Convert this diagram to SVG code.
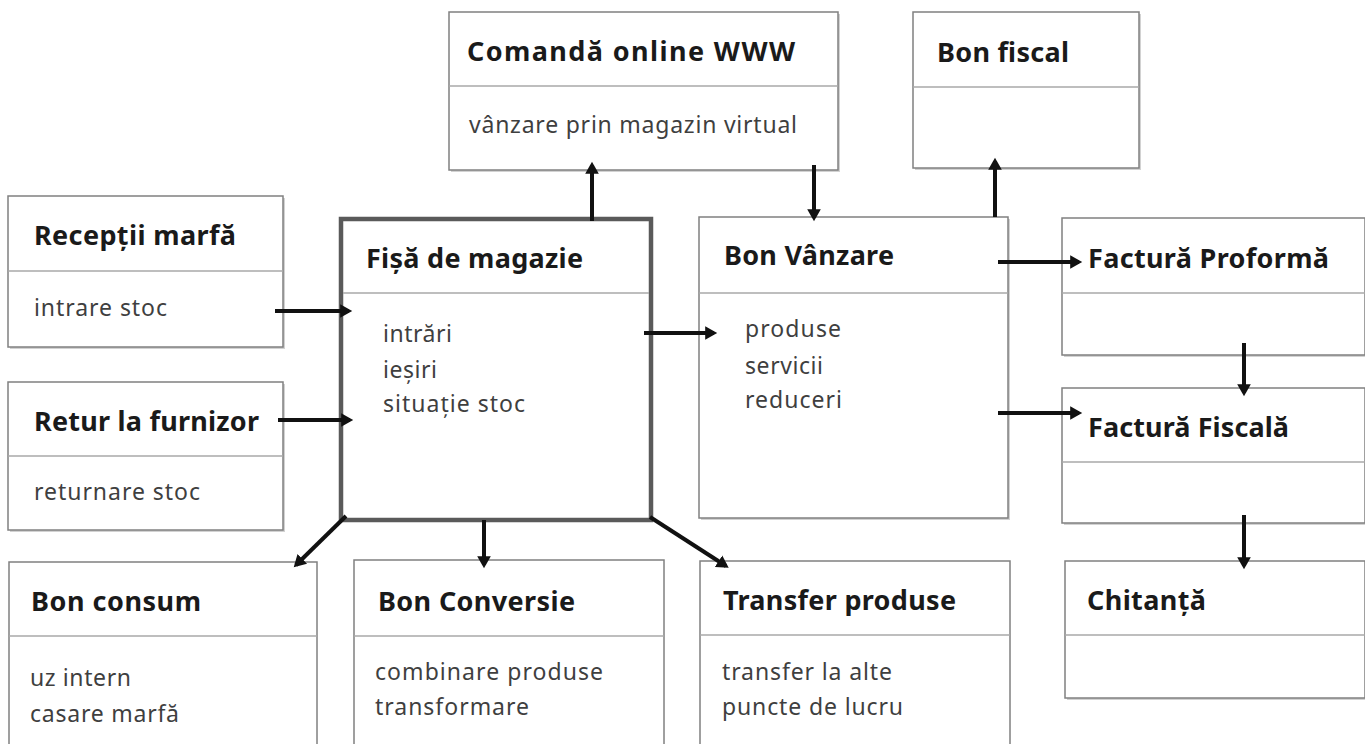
<svg xmlns="http://www.w3.org/2000/svg" width="1365" height="744" viewBox="0 0 1365 744">
<style>
.box{fill:#fff;stroke:#808080;stroke-width:1.5}
.sh{fill:#d2d2d2}
.div{stroke:#a8a8a8;stroke-width:1.5}
.main{fill:#fff;stroke:#5a5a5a;stroke-width:4.5}
.t{font-family:"Noto Sans","Open Sans",sans-serif;font-weight:bold;font-size:27px;fill:#1a1a1a}
.b{font-family:"Noto Sans","Open Sans",sans-serif;font-size:23px;fill:#3f3f3f}
.c{stroke:#111;stroke-width:4;fill:none;marker-end:url(#ah)}
</style>
<defs>
<marker id="ah" markerWidth="4" markerHeight="4" refX="2.2" refY="2" orient="auto" markerUnits="strokeWidth">
<path d="M0,0.3 L3,2 L0,3.7 Z" fill="#111"/>
</marker>
</defs>
<rect width="1365" height="744" fill="#fff"/>

<g id="comanda">
<rect class="sh" x="451" y="14" width="389" height="158"/>
<rect class="box" x="449" y="12" width="389" height="158"/>
<line class="div" x1="449" y1="86" x2="838" y2="86"/>
<text class="t" x="467" y="61" textLength="328">Comandă online WWW</text>
<text class="b" x="469" y="133" textLength="328">vânzare prin magazin virtual</text>
</g>

<g id="bonfiscal">
<rect class="sh" x="915" y="14" width="226" height="156"/>
<rect class="box" x="913" y="12" width="226" height="156"/>
<line class="div" x1="913" y1="87" x2="1139" y2="87"/>
<text class="t" x="937" y="62" textLength="132">Bon fiscal</text>
</g>

<g id="receptii">
<rect class="sh" x="10" y="198" width="275" height="151"/>
<rect class="box" x="8" y="196" width="275" height="151"/>
<line class="div" x1="8" y1="271" x2="283" y2="271"/>
<text class="t" x="34" y="245" textLength="202">Recepții marfă</text>
<text class="b" x="34" y="316" textLength="133">intrare stoc</text>
</g>

<g id="retur">
<rect class="sh" x="10" y="384" width="275" height="148"/>
<rect class="box" x="8" y="382" width="275" height="148"/>
<line class="div" x1="8" y1="456" x2="283" y2="456"/>
<text class="t" x="34" y="431" textLength="225">Retur la furnizor</text>
<text class="b" x="34" y="500" textLength="166">returnare stoc</text>
</g>

<g id="fisa">
<rect class="main" x="341" y="219" width="310" height="301"/>
<line class="div" x1="343" y1="293" x2="649" y2="293"/>
<text class="t" x="366" y="268" textLength="217">Fișă de magazie</text>
<text class="b" x="383" y="342" textLength="69">intrări</text>
<text class="b" x="383" y="378" textLength="54">ieșiri</text>
<text class="b" x="383" y="412" textLength="142">situație stoc</text>
</g>

<g id="bonvanzare">
<rect class="sh" x="701" y="219" width="309" height="301"/>
<rect class="box" x="699" y="217" width="309" height="301"/>
<line class="div" x1="699" y1="293" x2="1008" y2="293"/>
<text class="t" x="724" y="265" textLength="170">Bon Vânzare</text>
<text class="b" x="745" y="337" textLength="96">produse</text>
<text class="b" x="745" y="374" textLength="78">servicii</text>
<text class="b" x="745" y="408" textLength="97">reduceri</text>
</g>

<g id="proforma">
<rect class="sh" x="1064" y="220" width="303" height="137"/>
<rect class="box" x="1062" y="218" width="303" height="137"/>
<line class="div" x1="1062" y1="293" x2="1365" y2="293"/>
<text class="t" x="1088" y="268" textLength="241">Factură Proformă</text>
</g>

<g id="fiscala">
<rect class="sh" x="1064" y="390" width="303" height="135"/>
<rect class="box" x="1062" y="388" width="303" height="135"/>
<line class="div" x1="1062" y1="462" x2="1365" y2="462"/>
<text class="t" x="1088" y="437" textLength="201">Factură Fiscală</text>
</g>

<g id="chitanta">
<rect class="sh" x="1067" y="563" width="300" height="137"/>
<rect class="box" x="1065" y="561" width="300" height="137"/>
<line class="div" x1="1065" y1="635" x2="1365" y2="635"/>
<text class="t" x="1087" y="610" textLength="119">Chitanță</text>
</g>

<g id="bonconsum">
<rect class="box" x="9" y="562" width="308" height="190"/>
<line class="div" x1="9" y1="636" x2="317" y2="636"/>
<text class="t" x="31" y="611" textLength="170">Bon consum</text>
<text class="b" x="30" y="686" textLength="101">uz intern</text>
<text class="b" x="30" y="722" textLength="149">casare marfă</text>
</g>

<g id="bonconversie">
<rect class="box" x="354" y="560" width="310" height="192"/>
<line class="div" x1="354" y1="636" x2="664" y2="636"/>
<text class="t" x="378" y="611" textLength="197">Bon Conversie</text>
<text class="b" x="375" y="680" textLength="228">combinare produse</text>
<text class="b" x="375" y="715" textLength="154">transformare</text>
</g>

<g id="transfer">
<rect class="box" x="700" y="561" width="310" height="191"/>
<line class="div" x1="700" y1="635" x2="1010" y2="635"/>
<text class="t" x="723" y="610" textLength="233">Transfer produse</text>
<text class="b" x="722" y="680" textLength="170">transfer la alte</text>
<text class="b" x="722" y="715" textLength="181">puncte de lucru</text>
</g>

<g id="connectors">
<line class="c" x1="275" y1="311" x2="349" y2="311"/>
<line class="c" x1="278" y1="420" x2="350" y2="420"/>
<line class="c" x1="644" y1="333" x2="714" y2="333"/>
<line class="c" x1="592" y1="221" x2="592" y2="165"/>
<line class="c" x1="814" y1="165" x2="814" y2="218"/>
<line class="c" x1="995" y1="217" x2="995" y2="161"/>
<line class="c" x1="998" y1="262" x2="1079" y2="262"/>
<line class="c" x1="998" y1="413" x2="1079" y2="413"/>
<line class="c" x1="1244" y1="343" x2="1244" y2="393"/>
<line class="c" x1="1244" y1="515" x2="1244" y2="566"/>
<line class="c" x1="346" y1="516" x2="296" y2="565"/>
<line class="c" x1="484" y1="520" x2="484" y2="565"/>
<line class="c" x1="650" y1="517" x2="726" y2="566"/>
</g>
</svg>
